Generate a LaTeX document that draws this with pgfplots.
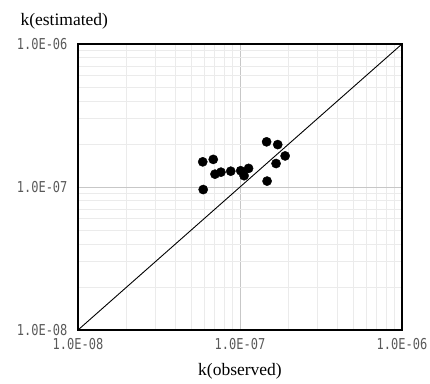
\documentclass[border=0pt]{standalone}
\usepackage{fontspec}
\setmainfont{Liberation Serif}
\newfontfamily\tickfont[FakeStretch=0.8]{DejaVu Sans Mono}
\usepackage{pgfplots}
\pgfplotsset{compat=1.18}
\definecolor{ticktxt}{HTML}{595959}
\begin{document}
\begin{tikzpicture}
\useasboundingbox (-78pt,-53pt) rectangle (352pt,330pt);
\begin{axis}[
  at={(0,0)}, anchor=south west,
  scale only axis, width=324pt, height=286pt,
  xmode=log, ymode=log,
  xmin=1e-8, xmax=1e-6, ymin=1e-8, ymax=1e-6,
  xtick={1e-8,1e-7,1e-6}, ytick={1e-8,1e-7,1e-6},
  xticklabels={1.0E-08,1.0E-07,1.0E-06},
  yticklabels={1.0E-08,1.0E-07,1.0E-06},
  ticklabel style={font=\tickfont\fontsize{15}{15}\selectfont, text=ticktxt},
  xticklabel style={yshift=-5pt},
  yticklabel style={xshift=-7pt},
  major tick length=0pt, minor tick length=0pt,
  grid=both,
  major grid style={draw=black!22, line width=0.8pt},
  minor grid style={draw=black!8, line width=0.8pt},
  axis line style={line width=1.3pt, black},
  every axis y label/.style={at={(rel axis cs:0,1)}, anchor=base west, xshift=-61pt, yshift=19pt},
  every axis x label/.style={at={(rel axis cs:0.5,0)}, anchor=base, yshift=-45pt},
  label style={font=\fontsize{17.5}{18}\selectfont},
  ylabel={k(estimated)},
  xlabel={k(observed)},
]
\addplot[black, line width=0.9pt] coordinates {(1e-8,1e-8) (1e-6,1e-6)};
\addplot[only marks, mark=*, mark size=4.6pt, black] coordinates {
(5.89e-8,1.50e-7)
(6.84e-8,1.56e-7)
(7.01e-8,1.23e-7)
(7.63e-8,1.27e-7)
(8.77e-8,1.29e-7)
(5.93e-8,9.6e-8)
(1.01e-7,1.30e-7)
(1.06e-7,1.20e-7)
(1.13e-7,1.35e-7)
(1.46e-7,2.07e-7)
(1.71e-7,1.98e-7)
(1.90e-7,1.65e-7)
(1.67e-7,1.46e-7)
(1.47e-7,1.10e-7)
};
\end{axis}
\end{tikzpicture}
\end{document}
